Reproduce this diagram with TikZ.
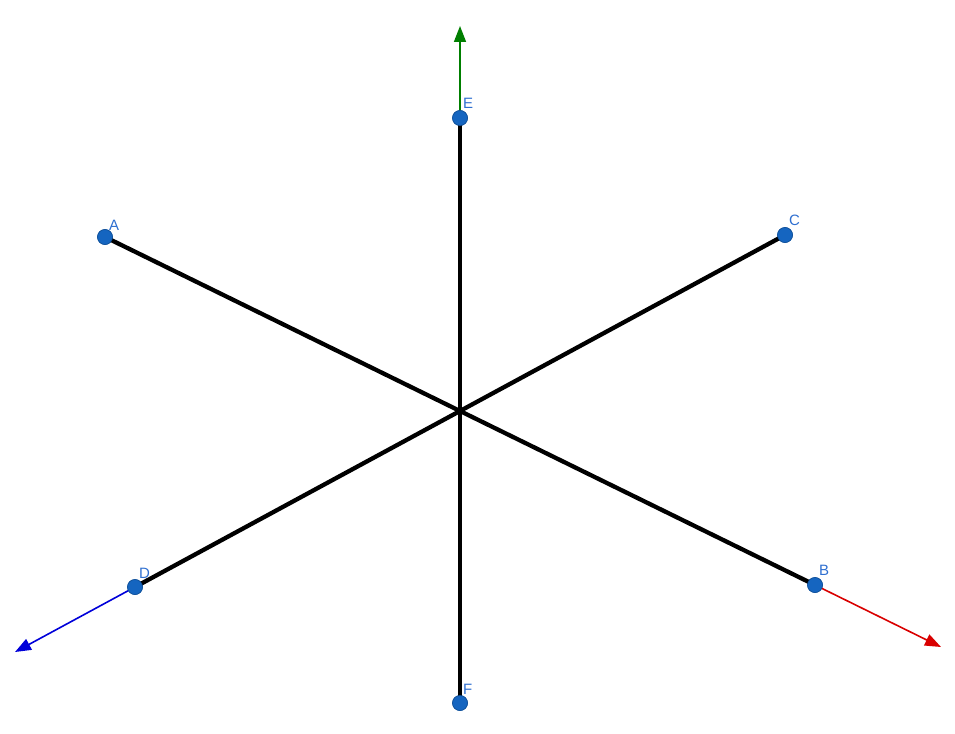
\documentclass[tikz,border=0pt]{standalone}
\usepackage{fontspec}
\setmainfont{Liberation Sans}
\usetikzlibrary{arrows.meta}
\definecolor{ptblue}{HTML}{1565C0}
\definecolor{lblblue}{HTML}{2F6FD0}
\definecolor{axgreen}{HTML}{007F00}
\tikzset{
  pt/.style={circle, fill=ptblue, draw=ptblue!80!black, line width=0.6pt, inner sep=0pt, minimum size=15pt},
  lbl/.style={text=lblblue, font=\fontsize{15}{15}\selectfont, inner sep=0pt, anchor=base west},
  seg/.style={line width=4.3pt, black},
  axis/.style={line width=1.6pt, -{Triangle[length=16pt,width=12pt]}},
}
\begin{document}
\begin{tikzpicture}[x=1pt,y=-1pt]
\useasboundingbox (0,0) rectangle (955,733);
\coordinate (O) at (460,410);
\coordinate (Etip) at (460,26);
\coordinate (Btip) at (941,647);
\coordinate (Dtip) at (15,652);
\node[pt] (A) at (105,237) {};
\node[pt] (B) at (815,585) {};
\node[pt] (C) at (785,235) {};
\node[pt] (D) at (135,587) {};
\node[pt] (E) at (460,118) {};
\node[pt] (F) at (460,703) {};
\draw[axis, axgreen] (E.center) -- (Etip);
\draw[axis, red!85!black] (B.center) -- (Btip);
\draw[axis, blue!85!black] (D.center) -- (Dtip);
\draw[seg] (A.center) -- (B.center);
\draw[seg] (C.center) -- (D.center);
\draw[seg] (E.center) -- (F.center);
\foreach \p in {A,B,C,D,E,F} {\node[pt] at (\p) {};}
\node[lbl] (lA) at (109,230) {A};
\node[lbl] (lB) at (819,575) {B};
\node[lbl] (lC) at (789,225) {C};
\node[lbl] (lD) at (139,578) {D};
\node[lbl] (lE) at (463,109) {E};
\node[lbl] (lF) at (463,694) {F};
\end{tikzpicture}
\end{document}
